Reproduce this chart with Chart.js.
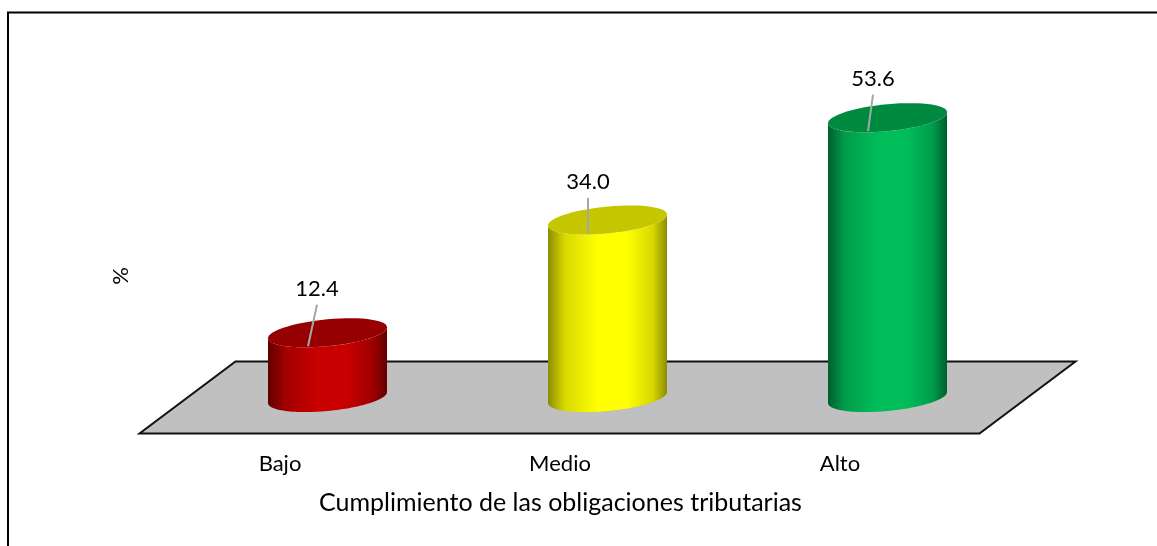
<!DOCTYPE html>
<html><head><meta charset="utf-8">
<style>html,body{margin:0;padding:0;background:#fff}#w{width:1157px;height:546px;position:relative;overflow:hidden}</style>
<script src="https://cdn.jsdelivr.net/npm/chart.js@4/dist/chart.umd.min.js"></script>
</head><body><div id="w"><canvas id="c" width="1157" height="546"></canvas></div>
<script>
const categories = ['Bajo', 'Medio', 'Alto'];
const values = [12.4, 34.0, 53.6];
const xTitle = 'Cumplimiento de las obligaciones tributarias';
const yTitle = '%';
const FONT = 'Lato, Carlito, sans-serif';
const sideMid = ['#c80000', '#ffff00', '#00bd59'];
const sideEdge = ['#600000', '#8c8c00', '#005e2e'];
const sideHalf = ['#a00000', '#d8d800', '#009c4b'];
const topFill = ['#960000', '#c6c600', '#008a40'];
const labelDx = [-10.5, -19.5, -14.5];
const labelDy = [-44, -38, -39];

const cylinders = {
  id: 'cylinders',
  beforeDraw(chart) {
    const c = chart.ctx;
    c.save();
    c.fillStyle = '#fff';
    c.fillRect(0, 0, chart.width, chart.height);
    c.strokeStyle = '#000'; c.lineWidth = 2;
    c.beginPath(); c.moveTo(8, 546); c.lineTo(8, 12.5); c.lineTo(1157, 12.5); c.stroke();
    c.restore();
  },
  beforeDatasetsDraw(chart) {
    const c = chart.ctx, a = chart.chartArea, d = 36, s = 48;
    const my = a.bottom;
    c.save();
    c.beginPath();
    c.moveTo(a.left - s, my + d);
    c.lineTo(a.right - s, my + d);
    c.lineTo(a.right + s, my - d);
    c.lineTo(a.left + s, my - d);
    c.closePath();
    c.fillStyle = '#c0c0c0'; c.fill();
    c.strokeStyle = '#111'; c.lineWidth = 2; c.lineJoin = 'miter'; c.stroke();
    c.restore();
  },
  afterDatasetsDraw(chart) {
    const c = chart.ctx, a = chart.chartArea, meta = chart.getDatasetMeta(0);
    const ry = 13.5, tilt = -5.5;
    meta.data.forEach((bar, i) => {
      const cx = bar.x, rx = bar.width / 2, top = bar.y, base = a.bottom;
      const g = c.createLinearGradient(cx - rx, 0, cx + rx, 0);
      g.addColorStop(0, sideEdge[i]);
      g.addColorStop(0.14, sideHalf[i]);
      g.addColorStop(0.42, sideMid[i]);
      g.addColorStop(0.66, sideMid[i]);
      g.addColorStop(0.88, sideHalf[i]);
      g.addColorStop(1, sideEdge[i]);
      const ell = (y, start, end) => {
        const pts = 60;
        for (let k = 0; k <= pts; k++) {
          const t = start + (end - start) * k / pts;
          c.lineTo(cx + rx * Math.cos(t), y + tilt * Math.cos(t) + ry * Math.sin(t));
        }
      };
      c.save();
      c.beginPath();
      ell(base, 0, Math.PI);
      ell(top, Math.PI, 0);
      c.closePath();
      c.fillStyle = g; c.fill();
      c.beginPath();
      ell(top, 0, Math.PI * 2);
      c.closePath();
      c.fillStyle = topFill[i]; c.fill();
      const lx = cx + labelDx[i];
      c.strokeStyle = '#a6a6a6'; c.lineWidth = 2;
      c.beginPath();
      c.moveTo(cx - 19.5, top + 13.5);
      c.lineTo(lx, top + labelDy[i] + 16);
      c.stroke();
      c.fillStyle = '#000'; c.font = '22px ' + FONT;
      c.textAlign = 'center'; c.textBaseline = 'middle';
      c.fillText(values[i].toFixed(1), lx, top + labelDy[i]);
      c.restore();
    });
    c.save();
    c.fillStyle = '#000'; c.textAlign = 'center'; c.textBaseline = 'middle';
    c.font = '25px ' + FONT;
    c.fillText(xTitle, 560.5, 503);
    c.translate(121, 276); c.rotate(-Math.PI / 2);
    c.font = '22px ' + FONT;
    c.fillText(yTitle, 0, 0);
    c.restore();
  }
};

new Chart(document.getElementById('c'), {
  type: 'bar',
  data: { labels: categories, datasets: [{ data: values, backgroundColor: 'rgba(0,0,0,0)', barPercentage: 0.425, categoryPercentage: 1 }] },
  options: {
    responsive: false, animation: false, events: [],
    layout: { padding: { left: 187.5, right: 129.5, top: 84.3, bottom: 0 } },
    plugins: { legend: { display: false }, title: { display: false }, tooltip: { enabled: false } },
    scales: {
      x: {
        grid: { display: false, drawTicks: false }, border: { display: false },
        ticks: { color: '#000', font: { family: FONT, size: 22 }, padding: 53, labelOffset: -47.5, maxRotation: 0 },
        afterFit(s) { s.height = 148.5; }
      },
      y: { display: false, min: 0, max: 60 }
    }
  },
  plugins: [cylinders]
});
</script></body></html>
